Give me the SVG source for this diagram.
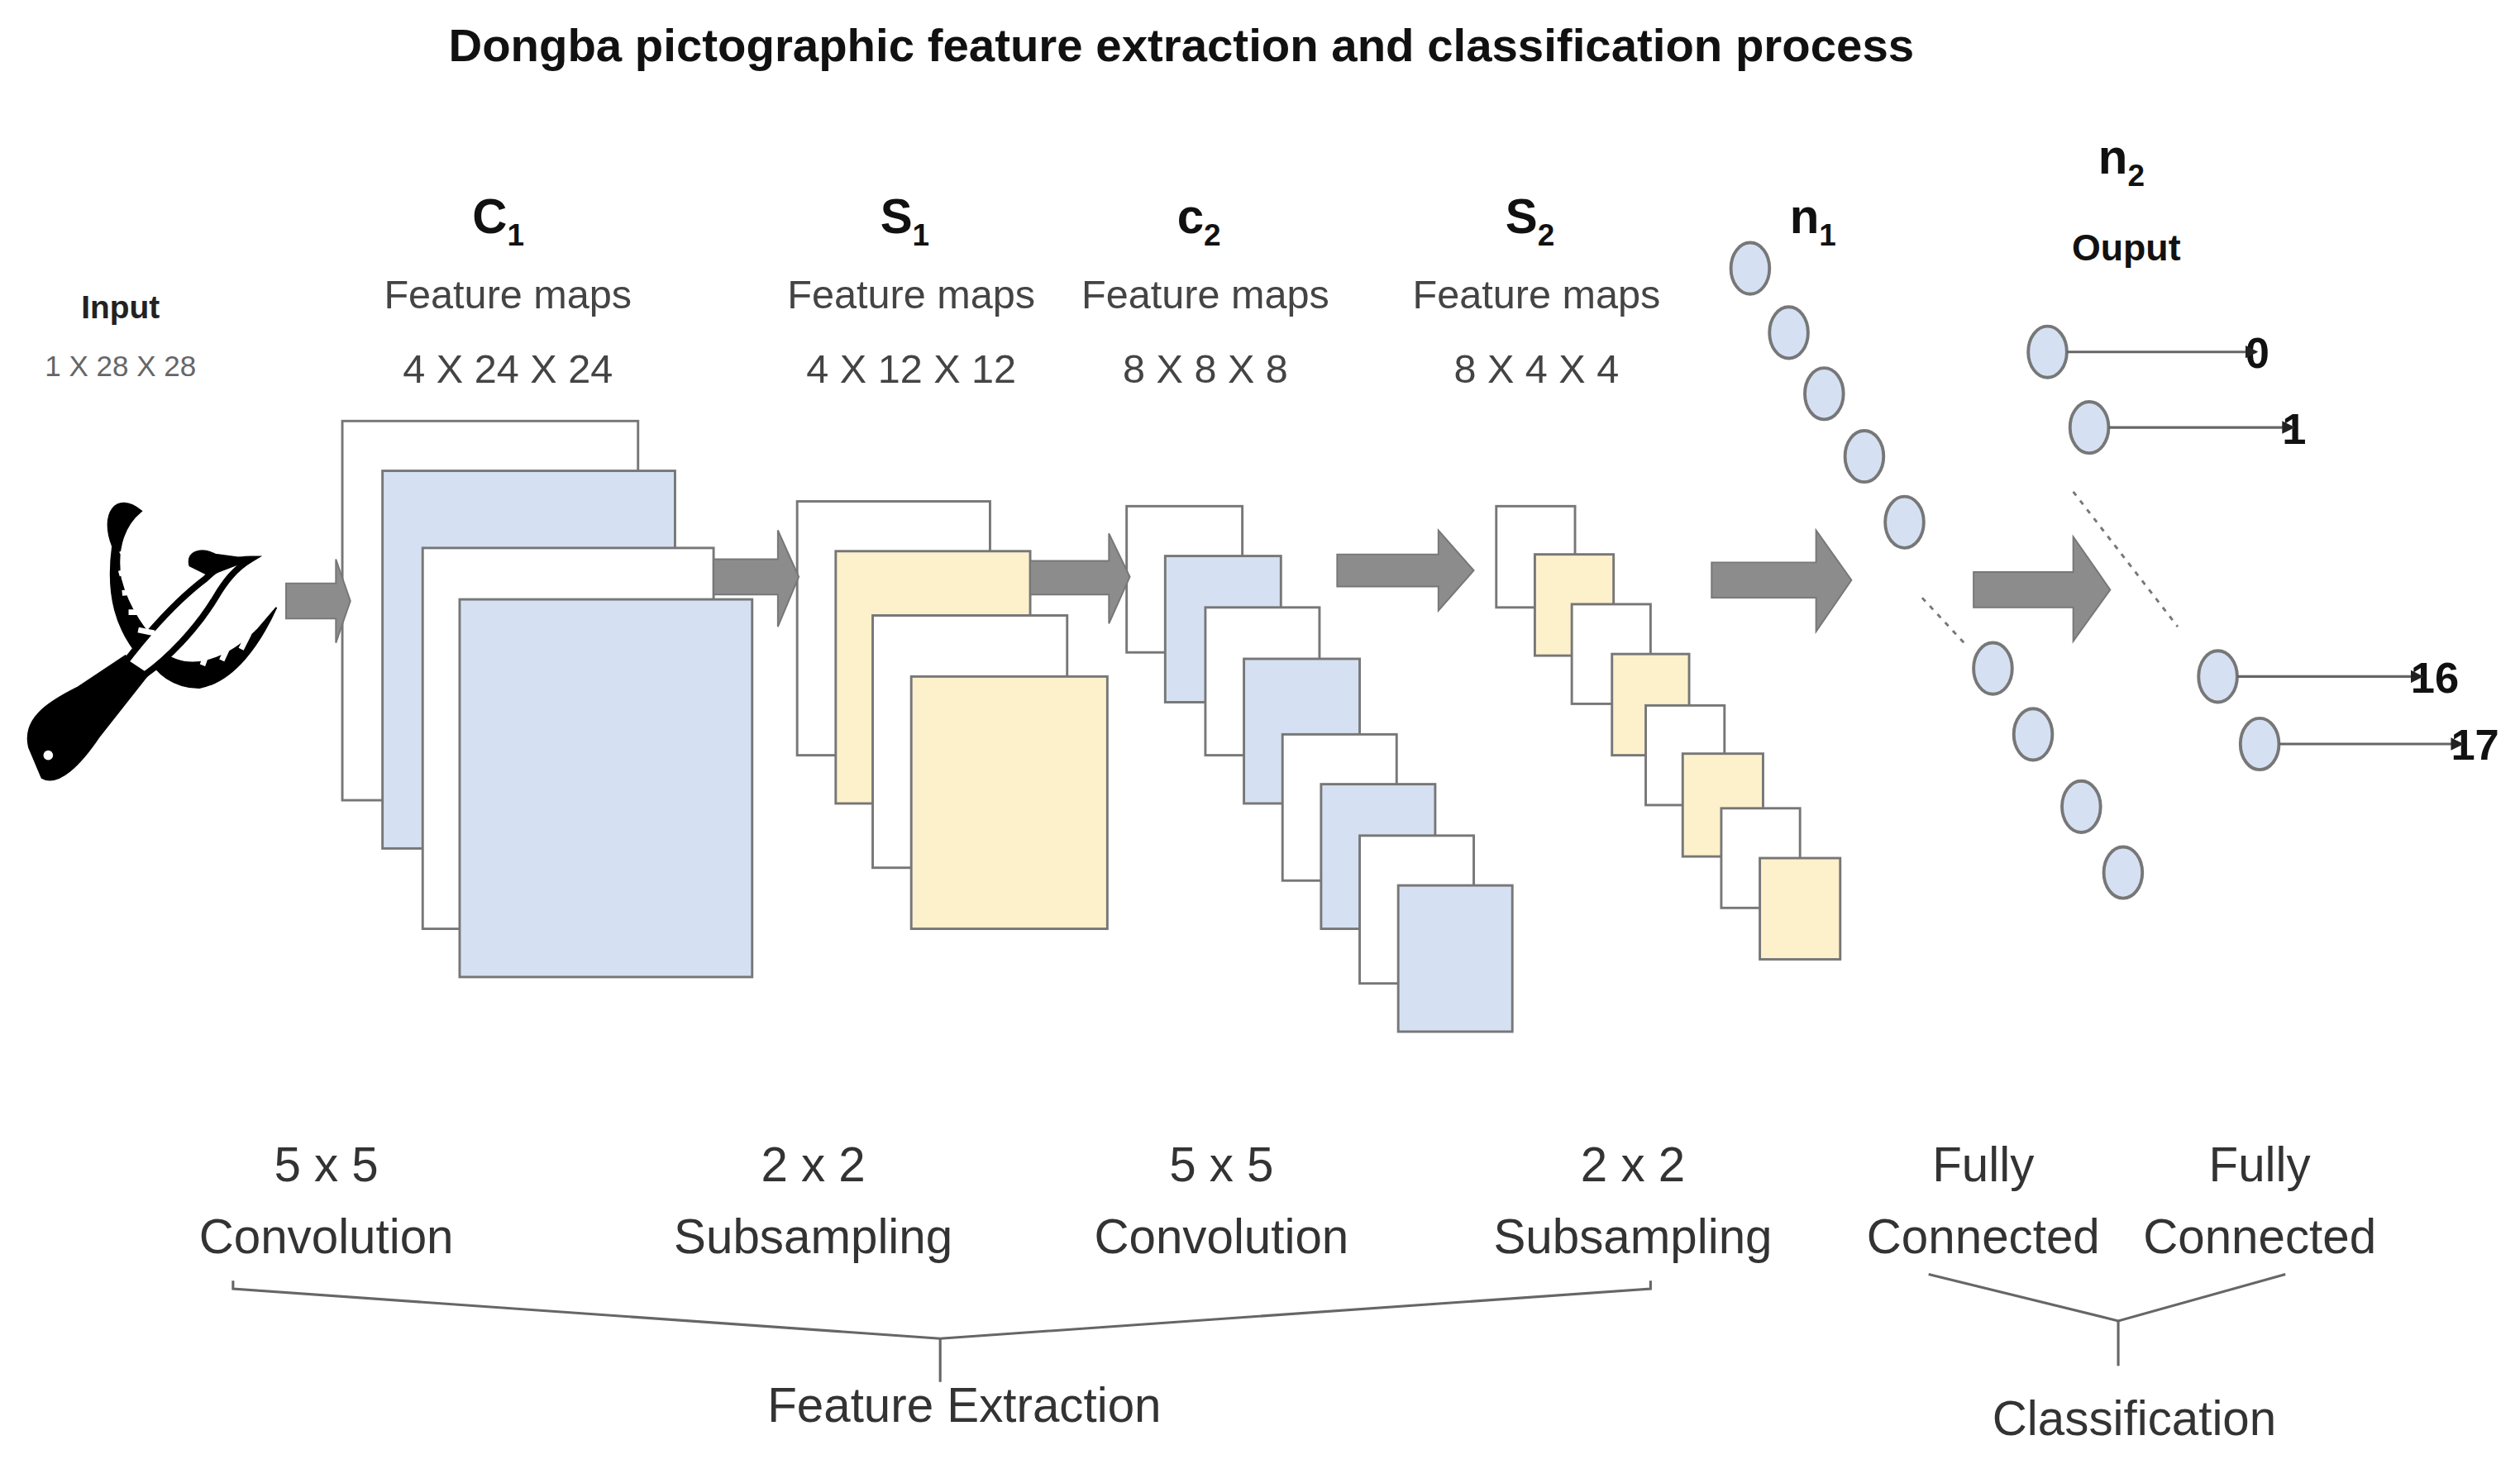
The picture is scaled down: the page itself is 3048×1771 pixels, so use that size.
<svg xmlns="http://www.w3.org/2000/svg" width="3048" height="1771" viewBox="0 0 3048 1771">
<style>
text{font-family:"Liberation Sans",Arial,sans-serif;text-anchor:middle}
.t{font-weight:bold;font-size:29px;fill:#111}
.h{font-weight:bold;font-size:30px;fill:#111}
.sub{font-size:19px}
.fm{font-size:25px;fill:#444}
.bl{font-size:30px;fill:#333}
.w{fill:#fff;stroke:#777;stroke-width:1.5}
.b{fill:#d5e1f3;stroke:#777;stroke-width:1.5}
.y{fill:#fdf1cc;stroke:#777;stroke-width:1.5}
.ar{fill:#8c8c8c;stroke:#777;stroke-width:1}
.n{fill:#d5e1f3;stroke:#777;stroke-width:2}
.ln{stroke:#666;stroke-width:1.6;fill:none}
.dot{stroke:#777;stroke-width:1.5;stroke-dasharray:3 4;fill:none}
.o{font-family:"Liberation Sans",Arial,sans-serif;font-weight:bold;font-size:27px;fill:#111;text-anchor:start}
</style>
<defs>
<marker id="m" markerWidth="8" markerHeight="8" refX="7" refY="4" orient="auto" markerUnits="userSpaceOnUse"><path d="M0,0 L8,4 L0,8 z" fill="#222"/></marker>
</defs>
<rect width="3048" height="1771" fill="#fff"/>
<g transform="scale(1.9439)">
<text class="t" x="735" y="38">Dongba pictographic feature extraction and classification process</text>

<g id="input">
<text x="75" y="198" style="font-weight:bold;font-size:20px;fill:#222">Input</text>
<text x="75" y="234" style="font-size:18px;fill:#666">1 X 28 X 28</text>
<g stroke="#000">
<path d="M18,465 C14,448 28,438 48,428 L78,408 L92,420 L62,458 C50,476 36,490 26,484 Z" fill="#000"/>
<path d="M70,340 C62,320 72,305 88,318 C78,326 72,340 75,360 C80,380 92,395 100,402 L88,410 C72,392 66,370 70,340 Z" fill="#000"/>
<path d="M100,405 C118,420 142,410 160,392 L172,378 C162,400 146,424 124,428 C108,428 96,418 94,410 Z" fill="#000"/>
<path d="M78,412 C95,390 112,372 128,360 C136,352 146,348 156,348 C146,354 140,362 134,372 C122,392 104,410 90,420 Z" fill="#fff" stroke-width="4"/>
<path d="M118,352 C116,344 124,340 134,345 L156,348 L130,358 Z" fill="#000"/>
<path d="M75,345 L84,340 M74,357 L85,354 M76,369 L88,368 M80,381 L92,381 M86,392 L96,394 M114,410 L118,400 M126,414 L130,403 M138,411 L143,400 M150,404 L155,394" stroke="#fff" stroke-width="3.5" fill="none"/>
<circle cx="30" cy="470" r="3" fill="#fff" stroke="none"/>
</g>
</g>

<g id="c1">
<text class="h" x="310" y="145">C<tspan class="sub" dy="8">1</tspan></text>
<text class="fm" x="316" y="192">Feature maps</text>
<text class="fm" x="316" y="238">4 X 24 X 24</text>
<rect class="w" x="213" y="262" width="184" height="236"/>
<rect class="b" x="238" y="293" width="182" height="235"/>
<rect class="w" x="263" y="341" width="181" height="237"/>
<rect class="b" x="286" y="373" width="182" height="235"/>
</g>

<g id="s1">
<text class="h" x="563" y="145">S<tspan class="sub" dy="8">1</tspan></text>
<text class="fm" x="567" y="192">Feature maps</text>
<text class="fm" x="567" y="238">4 X 12 X 12</text>
<rect class="w" x="496" y="312" width="120" height="158"/>
<rect class="y" x="520" y="343" width="121" height="157"/>
<rect class="w" x="543" y="383" width="121" height="157"/>
<rect class="y" x="567" y="421" width="122" height="157"/>
</g>

<g id="c2">
<text class="h" x="746" y="145">c<tspan class="sub" dy="8">2</tspan></text>
<text class="fm" x="750" y="192">Feature maps</text>
<text class="fm" x="750" y="238">8 X 8 X 8</text>
<rect class="w" x="701" y="315" width="72" height="91"/>
<rect class="b" x="725" y="346" width="72" height="91"/>
<rect class="w" x="750" y="378" width="71" height="92"/>
<rect class="b" x="774" y="410" width="72" height="90"/>
<rect class="w" x="798" y="457" width="71" height="91"/>
<rect class="b" x="822" y="488" width="71" height="90"/>
<rect class="w" x="846" y="520" width="71" height="92"/>
<rect class="b" x="870" y="551" width="71" height="91"/>
</g>

<g id="s2">
<text class="h" x="952" y="145">S<tspan class="sub" dy="8">2</tspan></text>
<text class="fm" x="956" y="192">Feature maps</text>
<text class="fm" x="956" y="238">8 X 4 X 4</text>
<rect class="w" x="931" y="315" width="49" height="63"/>
<rect class="y" x="955" y="345" width="49" height="63"/>
<rect class="w" x="978" y="376" width="49" height="62"/>
<rect class="y" x="1003" y="407" width="48" height="63"/>
<rect class="w" x="1024" y="439" width="49" height="62"/>
<rect class="y" x="1047" y="469" width="50" height="64"/>
<rect class="w" x="1071" y="503" width="49" height="62"/>
<rect class="y" x="1095" y="534" width="50" height="63"/>
</g>

<g id="n1">
<text class="h" x="1128" y="145">n<tspan class="sub" dy="8">1</tspan></text>
<ellipse class="n" cx="1089" cy="167" rx="12" ry="16"/>
<ellipse class="n" cx="1113" cy="207" rx="12" ry="16"/>
<ellipse class="n" cx="1135" cy="245" rx="12" ry="16"/>
<ellipse class="n" cx="1160" cy="284" rx="12" ry="16"/>
<ellipse class="n" cx="1185" cy="325" rx="12" ry="16"/>
<line class="dot" x1="1196" y1="372" x2="1222" y2="400"/>
<ellipse class="n" cx="1240" cy="416" rx="12" ry="16"/>
<ellipse class="n" cx="1265" cy="457" rx="12" ry="16"/>
<ellipse class="n" cx="1295" cy="502" rx="12" ry="16"/>
<ellipse class="n" cx="1321" cy="543" rx="12" ry="16"/>
</g>

<g id="n2">
<text class="h" x="1320" y="108">n<tspan class="sub" dy="8">2</tspan></text>
<text x="1323" y="162" style="font-weight:bold;font-size:23px;fill:#111">Ouput</text>
<ellipse class="n" cx="1274" cy="219" rx="12" ry="16"/>
<ellipse class="n" cx="1300" cy="266" rx="12" ry="16"/>
<line class="dot" x1="1290" y1="306" x2="1355" y2="390"/>
<ellipse class="n" cx="1380" cy="421" rx="12" ry="16"/>
<ellipse class="n" cx="1406" cy="463" rx="12" ry="16"/>
<text class="o" x="1397" y="229">0</text>
<text class="o" x="1420" y="276">1</text>
<text class="o" x="1500" y="431">16</text>
<text class="o" x="1525" y="473">17</text>
</g>

<g id="connectors">
<path class="ar" d="M178,363 H209 V348 L218,374 L209,400 V385 H178 Z"/>
<path class="ar" d="M444,348 H484 V330 L497,359 L484,390 V370 H444 Z"/>
<path class="ar" d="M641,349 H690 V332 L703,359 L690,388 V370 H641 Z"/>
<path class="ar" d="M832,345 H895 V330 L917,355 L895,380 V365 H832 Z"/>
<path class="ar" d="M1065,350 H1130 V330 L1152,361 L1130,393 V372 H1065 Z"/>
<path class="ar" d="M1228,356 H1290 V334 L1313,367 L1290,399 V378 H1228 Z"/>
<line class="ln" x1="1286" y1="219" x2="1404" y2="219" marker-end="url(#m)"/>
<line class="ln" x1="1312" y1="266" x2="1427" y2="266" marker-end="url(#m)"/>
<line class="ln" x1="1392" y1="421" x2="1507" y2="421" marker-end="url(#m)"/>
<line class="ln" x1="1418" y1="463" x2="1532" y2="463" marker-end="url(#m)"/>
</g>

<g id="labels">
<text class="bl" x="203" y="735">5 x 5</text>
<text class="bl" x="203" y="780">Convolution</text>
<text class="bl" x="506" y="735">2 x 2</text>
<text class="bl" x="506" y="780">Subsampling</text>
<text class="bl" x="760" y="735">5 x 5</text>
<text class="bl" x="760" y="780">Convolution</text>
<text class="bl" x="1016" y="735">2 x 2</text>
<text class="bl" x="1016" y="780">Subsampling</text>
<text class="bl" x="1234" y="735">Fully</text>
<text class="bl" x="1234" y="780">Connected</text>
<text class="bl" x="1406" y="735">Fully</text>
<text class="bl" x="1406" y="780">Connected</text>
<polyline class="ln" points="145,797 145,802 585,833 1027,802 1027,797"/>
<line class="ln" x1="585" y1="833" x2="585" y2="860"/>
<text class="bl" x="600" y="885">Feature Extraction</text>
<polyline class="ln" points="1200,793 1318,822 1422,793"/>
<line class="ln" x1="1318" y1="822" x2="1318" y2="850"/>
<text class="bl" x="1328" y="893">Classification</text>
</g>
</g>
</svg>
